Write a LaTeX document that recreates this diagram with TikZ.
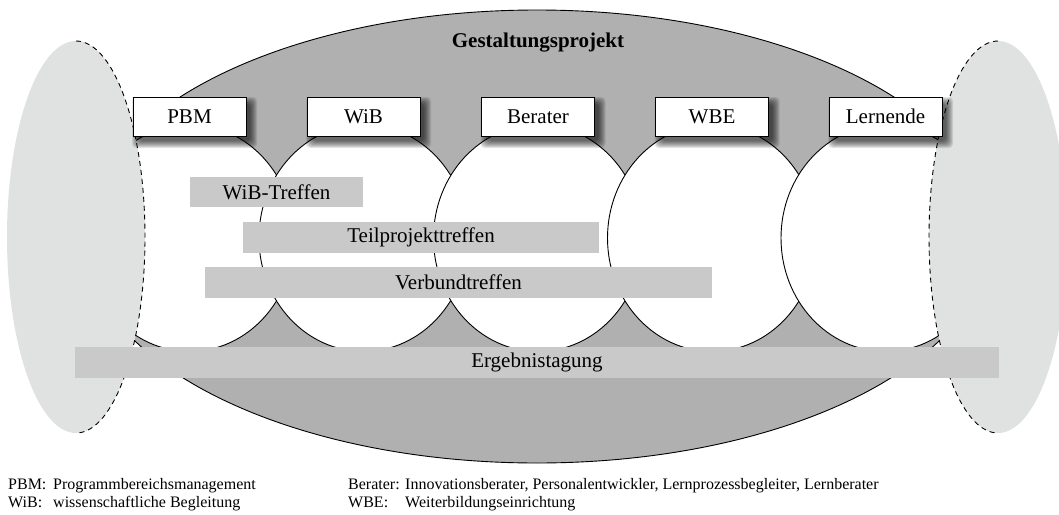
\documentclass[tikz,border=0pt]{standalone}
\usepackage{fontspec}
\setmainfont{Liberation Serif}
\definecolor{projgray}{gray}{0.69}
\definecolor{bargray}{gray}{0.79}
\definecolor{sidegray}{RGB}{224,225,225}
\tikzset{
  outline/.style={draw=black, line width=0.9pt},
  sidedash/.style={draw=black, line width=0.9pt, dash pattern=on 5pt off 4pt},
  rolebox/.style={draw=black, line width=0.9pt, fill=white, minimum width=113pt, minimum height=39pt, inner sep=0pt,
     font=\fontsize{21}{25}\selectfont},
  shadowlayer/.style={fill=black, fill opacity=0.1, rounded corners=4pt},
  meetbar/.style={fill=bargray, minimum height=30.5pt, inner sep=0pt, font=\fontsize{21}{25}\selectfont},
  legend/.style={anchor=base west, inner sep=0pt, font=\fontsize{16}{19}\selectfont},
}
\begin{document}
\begin{tikzpicture}[x=1pt, y=-1pt]
\clip (0,0) rectangle (1059,514);
\useasboundingbox (0,0) rectangle (1059,514);
\fill[white] (0,0) rectangle (1059,514);
% big project ellipse
\coordinate (proj) at (537,236.5);
\path[fill=projgray, outline] (proj) ellipse [x radius=453pt, y radius=226.5pt];
% participant ellipses
\foreach \cx/\nm in {189.5/c1, 363.5/c2, 538/c3, 712/c4, 885.5/c5}{
  \coordinate (\nm) at (\cx,238);
  \path[fill=white, outline] (\nm) ellipse [x radius=104.5pt, y radius=113.5pt];
}
% side ellipses
\coordinate (sl) at (76,237);
\coordinate (sr) at (998,237);
\fill[sidegray] (sl) ellipse [x radius=69pt, y radius=196pt];
\fill[sidegray] (sr) ellipse [x radius=69pt, y radius=196pt];
\draw[sidedash] ([yshift=196pt]sl) arc[start angle=90, end angle=-90, x radius=69pt, y radius=196pt];
\draw[sidedash] ([yshift=196pt]sr) arc[start angle=90, end angle=270, x radius=69pt, y radius=196pt];
% meeting bars
\node[meetbar, minimum width=173pt] (wibt) at (276.5,192) {WiB-Treffen};
\node[meetbar, minimum width=356pt] (tpt) at (421,237.5) {Teilprojekttreffen};
\node[meetbar, minimum width=507pt] (vbt) at (458.5,282.5) {Verbundtreffen};
\node[meetbar, minimum width=924pt] (ergt) at (537,362.5) {Ergebnistagung};
% soft shadows of the role boxes
\foreach \cx in {189.5, 363.5, 538, 712, 885.5}{
  \foreach \e in {6,5,4,3,2,1,0,-1}{
    \fill[shadowlayer] (\cx-56.5+5-\e, 116.5-19.5+6-\e) rectangle (\cx+56.5+5+\e, 116.5+19.5+6+\e);
  }
}
% role boxes
\node[rolebox] (pbm) at (189.5,116.5) {PBM};
\node[rolebox] (wib) at (363.5,116.5) {WiB};
\node[rolebox] (ber) at (538,116.5) {Berater};
\node[rolebox] (wbe) at (712,116.5) {WBE};
\node[rolebox] (lern) at (885.5,116.5) {Lernende};
% title
\node[font=\fontsize{21}{25}\selectfont\bfseries] (title) at (538,43) {Gestaltungsprojekt};
% legend
\node[legend] (l1a) at (8,489) {PBM:};
\node[legend] (l1b) at (53,489) {Programmbereichsmanagement};
\node[legend] (l2a) at (8,507) {WiB:};
\node[legend] (l2b) at (53,507) {wissenschaftliche Begleitung};
\node[legend] (l3a) at (348,489) {Berater:};
\node[legend] (l3b) at (405,489) {Innovationsberater, Personalentwickler, Lernprozessbegleiter, Lernberater};
\node[legend] (l4a) at (348,507) {WBE:};
\node[legend] (l4b) at (405,507) {Weiterbildungseinrichtung};
\end{tikzpicture}
\end{document}
